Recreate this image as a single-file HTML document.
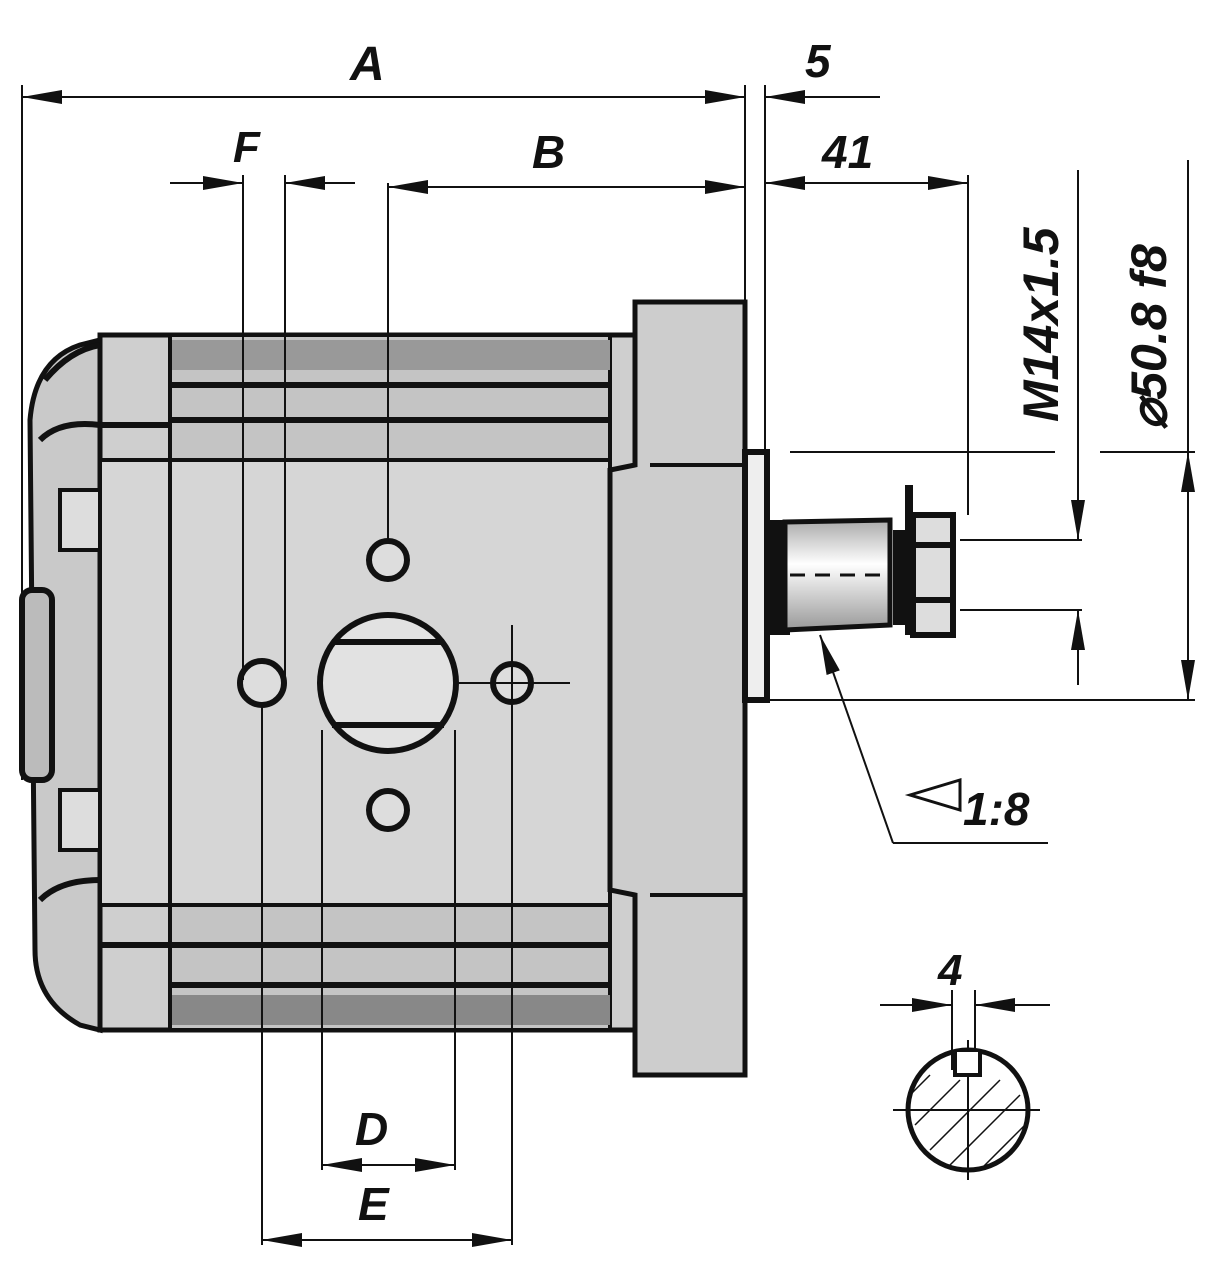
<!DOCTYPE html>
<html><head><meta charset="utf-8"><style>
html,body{margin:0;padding:0;background:#fff;}
svg{display:block}
text{font-family:"Liberation Sans",sans-serif;font-weight:bold;font-style:italic;fill:#111}
</style></head><body>
<svg width="1215" height="1280" viewBox="0 0 1215 1280" xmlns="http://www.w3.org/2000/svg">
<defs>
<marker id="b" viewBox="0 0 40 14" refX="40" refY="7" markerWidth="40" markerHeight="14" orient="auto-start-reverse" markerUnits="userSpaceOnUse"><path d="M0,0 L40,7 L0,14 z" fill="#111"/></marker>
<linearGradient id="sh" x1="0" y1="0" x2="0" y2="1"><stop offset="0" stop-color="#aaa"/><stop offset=".4" stop-color="#fff"/><stop offset="1" stop-color="#999"/></linearGradient>
</defs>
<g stroke="#111" fill="none">
<path d="M100,340 L100,1030 L80,1025 Q35,1000 35,950 L30,420 Q35,360 80,345 Z" fill="#c9c9c9" stroke-width="5"/>
<rect x="100" y="335" width="540" height="695" fill="#cfcfcf" stroke-width="5"/>
<rect x="100" y="460" width="510" height="445" fill="#d6d6d6" stroke-width="4"/>
<rect x="170" y="335" width="440" height="125" fill="#c4c4c4" stroke-width="4"/>
<rect x="170" y="905" width="440" height="125" fill="#c4c4c4" stroke-width="4"/>
<path d="M170,385 H610 M170,420 H610 M100,425 H170 M170,945 H610 M170,985 H610 M100,945 H170" stroke-width="6"/>
<rect x="170" y="995" width="440" height="30" fill="#888" stroke="none"/>
<rect x="170" y="340" width="440" height="30" fill="#999" stroke="none"/>
<line x1="170" y1="335" x2="170" y2="1030" stroke-width="4"/>
<path d="M635,302 H745 V1075 H635 V895 L610,890 V470 L635,465 Z" fill="#cdcdcd" stroke-width="5"/>
<path d="M635,302 V465 M635,895 V1075 M650,465 H745 M650,895 H745" stroke-width="4"/>
<rect x="22" y="590" width="30" height="190" rx="10" fill="#bbb" stroke-width="6"/>
<path d="M40,440 Q60,420 100,425 M40,900 Q60,880 100,880 M45,380 Q70,350 100,345" stroke-width="6"/>
<rect x="60" y="490" width="40" height="60" fill="#ddd" stroke-width="4"/>
<rect x="60" y="790" width="40" height="60" fill="#ddd" stroke-width="4"/>
<circle cx="388" cy="560" r="19" fill="#ddd" stroke-width="6"/>
<circle cx="388" cy="810" r="19" fill="#ddd" stroke-width="6"/>
<circle cx="262" cy="683" r="22" fill="#ddd" stroke-width="6"/>
<circle cx="512" cy="683" r="19" fill="#ddd" stroke-width="6"/>
<circle cx="388" cy="683" r="68" fill="#e2e2e2" stroke-width="6"/>
<path d="M332,642 H444 M332,725 H444" stroke-width="6"/>
<line x1="455" y1="683" x2="570" y2="683" stroke-width="2"/>
<line x1="512" y1="625" x2="512" y2="745" stroke-width="2"/>
<rect x="745" y="452" width="22" height="248" fill="#eee" stroke-width="6"/>
<rect x="770" y="520" width="20" height="115" fill="#111" stroke="none"/>
<path d="M785,522 L890,520 L890,625 L785,630 Z" fill="url(#sh)" stroke-width="5"/>
<rect x="893" y="530" width="12" height="95" fill="#111" stroke="none"/>
<rect x="905" y="485" width="8" height="150" fill="#111" stroke="none"/>
<rect x="913" y="515" width="40" height="120" fill="#ddd" stroke-width="6"/>
<path d="M913,545 H953 M913,600 H953" stroke-width="6"/>
<path d="M790,575 H890" stroke-width="3" stroke-dasharray="15,10"/>
<g stroke-width="2">
<path d="M22,85 V780 M745,85 V300 M765,85 V450 M243,175 V680 M285,175 V680 M388,183 V540 M968,175 V515"/>
<line x1="22" y1="97" x2="745" y2="97" marker-start="url(#b)" marker-end="url(#b)"/>
<line x1="880" y1="97" x2="765" y2="97" marker-end="url(#b)"/>
<line x1="170" y1="183" x2="243" y2="183" marker-end="url(#b)"/>
<line x1="355" y1="183" x2="285" y2="183" marker-end="url(#b)"/>
<line x1="388" y1="187" x2="745" y2="187" marker-start="url(#b)" marker-end="url(#b)"/>
<line x1="765" y1="183" x2="968" y2="183" marker-start="url(#b)" marker-end="url(#b)"/>
<path d="M790,452 H1055 M1100,452 H1195 M765,700 H1195 M960,540 H1082 M960,610 H1082"/>
<line x1="1078" y1="170" x2="1078" y2="540" marker-end="url(#b)"/>
<line x1="1078" y1="685" x2="1078" y2="610" marker-end="url(#b)"/>
<line x1="1188" y1="160" x2="1188" y2="452" />
<line x1="1188" y1="452" x2="1188" y2="700" marker-start="url(#b)" marker-end="url(#b)"/>
<path d="M262,705 V1245 M322,730 V1170 M455,730 V1170 M512,705 V1245"/>
<line x1="322" y1="1165" x2="455" y2="1165" marker-start="url(#b)" marker-end="url(#b)"/>
<line x1="262" y1="1240" x2="512" y2="1240" marker-start="url(#b)" marker-end="url(#b)"/>
<line x1="893" y1="843" x2="820" y2="635" marker-end="url(#b)"/>
<path d="M893,843 H1048"/>
<path d="M910,795 L960,780 L960,810 Z" stroke-width="3"/>
<path d="M952,990 V1070 M975,990 V1070"/>
<line x1="880" y1="1005" x2="952" y2="1005" marker-end="url(#b)"/>
<line x1="1050" y1="1005" x2="975" y2="1005" marker-end="url(#b)"/>
<path d="M893,1110 H1040 M968,1040 V1180"/>
<path d="M930,1075 L910,1095 M960,1080 L915,1125 M1000,1080 L930,1150 M1020,1095 L950,1165 M1025,1125 L980,1170" stroke-width="1.5"/>
</g>
<circle cx="968" cy="1110" r="60" stroke-width="5"/>
<path d="M955,1052 V1075 H980 V1052" fill="#fff" stroke-width="4"/>
</g>
<text x="350" y="80" font-size="48">A</text>
<text x="805" y="77" font-size="46">5</text>
<text x="233" y="162" font-size="44">F</text>
<text x="532" y="168" font-size="46">B</text>
<text x="822" y="168" font-size="46">41</text>
<text font-size="50" transform="translate(1058,422) rotate(-90)">M14x1.5</text>
<text font-size="50" transform="translate(1166,430) rotate(-90)">⌀50.8 f8</text>
<text x="963" y="825" font-size="46">1:8</text>
<text x="355" y="1145" font-size="46">D</text>
<text x="358" y="1220" font-size="46">E</text>
<text x="938" y="985" font-size="44">4</text>
</svg>
</body></html>
